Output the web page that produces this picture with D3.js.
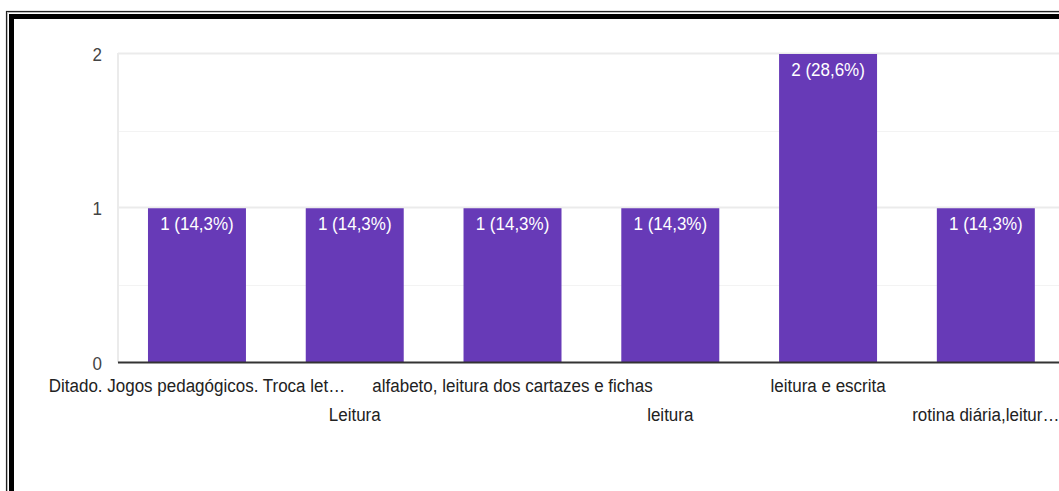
<!DOCTYPE html>
<html>
<head>
<meta charset="utf-8">
<script src="https://cdn.jsdelivr.net/npm/d3@7"></script>
<style>
  html, body { margin: 0; padding: 0; background: #fff; }
  svg { display: block; }
  text { font-family: Arial, "Liberation Sans", sans-serif; }
</style>
</head>
<body>
<svg id="chart" width="1059" height="491"></svg>
<script>
// Answers to the question and how many respondents gave each one
const categories = [
  "Ditado. Jogos pedagógicos. Troca let…",
  "Leitura",
  "alfabeto, leitura dos cartazes e fichas",
  "leitura",
  "leitura e escrita",
  "rotina diária,leitur…"
];
const counts = [1, 1, 1, 1, 2, 1];
const percentLabels = ["14,3%", "14,3%", "14,3%", "14,3%", "28,6%", "14,3%"];
const yTicks = [0, 1, 2];
const yMinorTicks = [0.5, 1.5];

const svg = d3.select("#chart");
const W = 1059;
const TEXT_STRETCH = 1.12; // labels are drawn slightly taller than wide

// Place a text at (x, y) baseline with a small vertical stretch
const place = (px, py) => `translate(${px},${py}) scale(1,${TEXT_STRETCH})`;

// Double-ruled frame around the card
const frame = svg.append("g");
frame.append("rect").attr("x", 6.5).attr("y", 11.5).attr("width", 1100).attr("height", 600)
  .attr("fill", "none").attr("stroke", "#222").attr("stroke-width", 1.2);
frame.append("rect").attr("x", 7.5).attr("y", 12.5).attr("width", 1100).attr("height", 600)
  .attr("fill", "none").attr("stroke", "#bbb").attr("stroke-width", 1);
frame.append("rect").attr("x", 11.5).attr("y", 16.5).attr("width", 1100).attr("height", 600)
  .attr("fill", "none").attr("stroke", "#000").attr("stroke-width", 5);

const plot = { left: 118, top: 54, bottom: 362.5 };
const step = 157.8;

const x = d3.scaleBand()
  .domain(categories)
  .range([plot.left, plot.left + step * categories.length])
  .paddingInner(0.379)
  .paddingOuter(0.19);

const y = d3.scaleLinear()
  .domain([0, 2])
  .range([plot.bottom, plot.top]);

const g = svg.append("g");

// Minor gridlines
g.selectAll("line.minor").data(yMinorTicks).join("line")
  .attr("class", "minor")
  .attr("x1", plot.left).attr("x2", W)
  .attr("y1", d => Math.round(y(d)) + 0.5).attr("y2", d => Math.round(y(d)) + 0.5)
  .attr("stroke", "#f3f3f3").attr("stroke-width", 1);

// Major gridlines
g.selectAll("line.major").data(yTicks.filter(d => d > 0)).join("line")
  .attr("class", "major")
  .attr("x1", plot.left).attr("x2", W)
  .attr("y1", d => Math.round(y(d)) - 0.5).attr("y2", d => Math.round(y(d)) - 0.5)
  .attr("stroke", "#ebebeb").attr("stroke-width", 2);

// Vertical rule along the left of the plot
g.append("line")
  .attr("x1", plot.left).attr("x2", plot.left)
  .attr("y1", plot.top - 1).attr("y2", plot.bottom)
  .attr("stroke", "#ebebeb").attr("stroke-width", 2);

// Bars
g.selectAll("rect.bar").data(categories).join("rect")
  .attr("class", "bar")
  .attr("x", d => x(d))
  .attr("y", (d, i) => y(counts[i]))
  .attr("width", x.bandwidth())
  .attr("height", (d, i) => y(0) - y(counts[i]))
  .attr("fill", "#673ab7");

// Value labels inside the top of each bar
g.selectAll("text.val").data(categories).join("text")
  .attr("class", "val")
  .attr("transform", (d, i) => place(x(d) + x.bandwidth() / 2, y(counts[i]) + 22))
  .attr("text-anchor", "middle")
  .attr("fill", "#fff")
  .attr("font-size", 17)
  .text((d, i) => `${counts[i]} (${percentLabels[i]})`);

// Baseline
g.append("line")
  .attr("x1", plot.left).attr("x2", W)
  .attr("y1", plot.bottom).attr("y2", plot.bottom)
  .attr("stroke", "#333").attr("stroke-width", 2);

// Y axis labels
g.selectAll("text.ytick").data(yTicks).join("text")
  .attr("class", "ytick")
  .attr("transform", d => place(102, y(d) + 7))
  .attr("text-anchor", "end")
  .attr("fill", "#444")
  .attr("font-size", 17)
  .text(d => d);

// Category labels, staggered over two rows
g.selectAll("text.cat").data(categories).join("text")
  .attr("class", "cat")
  .attr("transform", (d, i) => place(x(d) + x.bandwidth() / 2, i % 2 === 0 ? 392 : 421))
  .attr("text-anchor", "middle")
  .attr("fill", "#222")
  .attr("font-size", 17)
  .text(d => d);
</script>
</body>
</html>
